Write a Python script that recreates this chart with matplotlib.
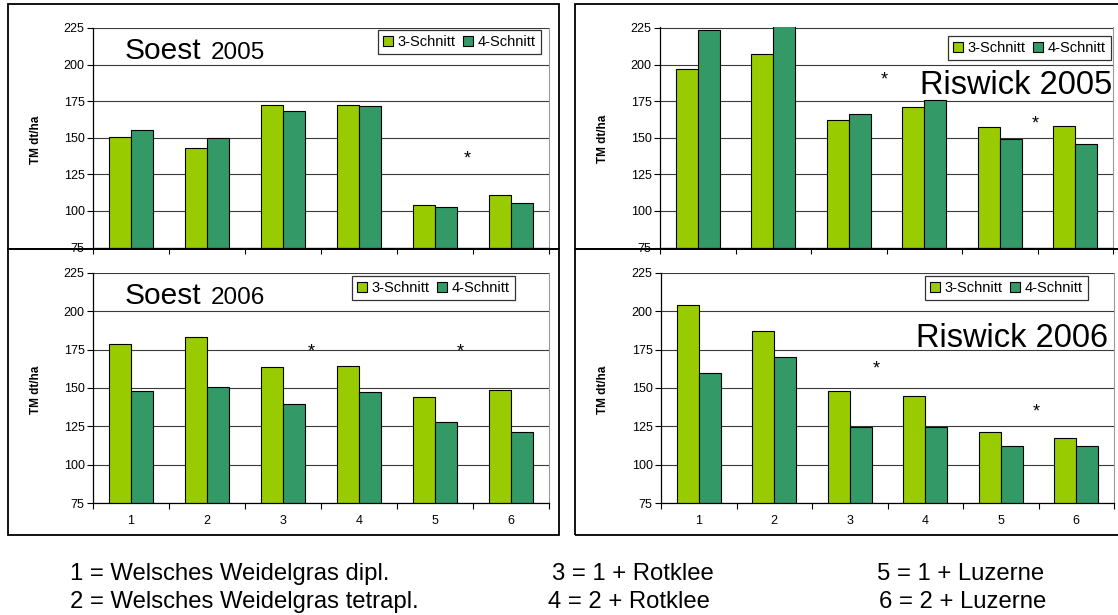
import matplotlib
matplotlib.use("Agg")
import matplotlib.pyplot as plt
from matplotlib import font_manager
from matplotlib.patches import Patch, Rectangle
import numpy as np

W, H = 1118, 615

CATEGORIES = [1, 2, 3, 4, 5, 6]
SERIES = ["3-Schnitt", "4-Schnitt"]
YTICKS = [75, 100, 125, 150, 175, 200, 225]

SOEST_2005_3 = [150.5, 143.3, 172.2, 172.2, 104.3, 110.8]
SOEST_2005_4 = [155.3, 149.7, 168.3, 171.4, 102.8, 105.3]
RISWICK_2005_3 = [196.8, 207.3, 162.0, 171.1, 157.3, 158.0]
RISWICK_2005_4 = [223.4, 230.0, 166.1, 175.9, 149.3, 145.9]
SOEST_2006_3 = [178.9, 183.0, 163.5, 164.1, 144.1, 148.9]
SOEST_2006_4 = [148.3, 150.5, 139.6, 147.6, 128.0, 121.1]
RISWICK_2006_3 = [204.3, 187.4, 148.0, 145.0, 121.1, 117.2]
RISWICK_2006_4 = [159.8, 170.4, 124.8, 124.8, 112.0, 112.0]

# significance marks (category position, value)
STARS_SOEST_2005 = [(5.43, 139)]
STARS_RISWICK_2005 = [(3.47, 193), (5.47, 163)]
STARS_SOEST_2006 = [(3.37, 177), (5.33, 177)]
STARS_RISWICK_2006 = [(3.35, 166), (5.47, 138)]

LEGEND_TEXT = [
    ("1 = Welsches Weidelgras dipl.", 70, 580),
    ("2 = Welsches Weidelgras tetrapl.", 70, 608),
    ("3 = 1 + Rotklee", 552, 580),
    ("4 = 2 + Rotklee", 548, 608),
    ("5 = 1 + Luzerne", 877, 580),
    ("6 = 2 + Luzerne", 879, 608),
]

GREEN = "#99CC00"
TEAL = "#339966"

installed = {f.name for f in font_manager.fontManager.ttflist}
NARROW = "Liberation Sans Narrow" if "Liberation Sans Narrow" in installed else "Liberation Sans"
plt.rcParams["font.family"] = ["Liberation Sans", "DejaVu Sans"]


def rect(x0, y0, x1, y1):
    return [x0 / W, 1 - y1 / H, (x1 - x0) / W, (y1 - y0) / H]


def panel(fig, box, v3, v4, stars, ytop, show_x, legend_xy, ylab_x):
    ax = fig.add_axes(rect(*box))
    x = np.array(CATEGORIES, dtype=float)
    w = 0.29
    ax.bar(x - w / 2, v3, w, color=GREEN, edgecolor="black", linewidth=0.8, zorder=2)
    ax.bar(x + w / 2, v4, w, color=TEAL, edgecolor="black", linewidth=0.8, zorder=2)
    ax.set_xlim(0.5, 6.5)
    ax.set_ylim(75, ytop)
    ax.set_yticks(YTICKS)
    ax.yaxis.grid(True, color="#3a3a3a", linewidth=0.8)
    ax.set_axisbelow(True)
    ax.tick_params(axis="y", direction="out", length=4, labelsize=9, pad=2, width=0.8)
    ax.set_xticks(CATEGORIES)
    ax.set_xticks(np.arange(0.5, 7, 1), minor=True)
    ax.tick_params(axis="x", which="major", length=0, labelsize=9, pad=9,
                   labelbottom=show_x)
    ax.tick_params(axis="x", which="minor", direction="out", length=4, width=0.8)
    for s in ("left", "bottom"):
        ax.spines[s].set_color("black")
        ax.spines[s].set_linewidth(0.9)
    ax.spines["right"].set_color("#9a9a9a")
    ax.spines["top"].set_visible(False)
    for sx, sy in stars:
        ax.annotate("*", (sx, sy), xytext=(0, -7), textcoords="offset points",
                    ha="center", va="baseline", fontsize=13)
    handles = [Patch(facecolor=GREEN, edgecolor="black", linewidth=0.8),
               Patch(facecolor=TEAL, edgecolor="black", linewidth=0.8)]
    leg = fig.legend(handles, SERIES, loc="upper left",
                     bbox_to_anchor=(legend_xy[0] / W, 1 - legend_xy[1] / H),
                     ncol=2, fontsize=10.5, frameon=True, fancybox=False,
                     handlelength=0.7, handleheight=0.7, handletextpad=0.3,
                     columnspacing=0.5, borderpad=0.35, borderaxespad=0)
    leg.get_frame().set_edgecolor("black")
    leg.get_frame().set_linewidth(0.9)
    cy = (box[1] + box[3]) / 2 + 2
    fig.text(ylab_x / W, 1 - cy / H, "TM dt/ha", rotation=90, ha="center",
             va="center", fontsize=8.5, fontweight="bold", family=[NARROW, "DejaVu Sans"])
    return ax


def frame(fig, x0, y0, x1, y1):
    fig.add_artist(Rectangle((x0 / W, 1 - y1 / H), (x1 - x0) / W, (y1 - y0) / H,
                             transform=fig.transFigure, fill=False,
                             edgecolor="black", linewidth=1.3, zorder=5))


def main():
    fig = plt.figure(figsize=(W / 100, H / 100), dpi=100)

    frame(fig, 8, 4, 559, 249)
    frame(fig, 575, 4, 1125, 249)
    frame(fig, 8, 249, 559, 535)
    frame(fig, 575, 249, 1125, 535)

    panel(fig, (93, 28, 549, 247.5), SOEST_2005_3, SOEST_2005_4, STARS_SOEST_2005,
          225, False, (378, 30), 36)
    panel(fig, (660, 26.5, 1113, 247.5), RISWICK_2005_3, RISWICK_2005_4,
          STARS_RISWICK_2005, 226, False, (948, 36), 603)
    panel(fig, (93, 273, 549, 503), SOEST_2006_3, SOEST_2006_4, STARS_SOEST_2006,
          225, True, (352, 276), 36)
    panel(fig, (661, 273, 1114, 503), RISWICK_2006_3, RISWICK_2006_4,
          STARS_RISWICK_2006, 225, True, (925, 276), 603)

    fig.text(125 / W, 1 - 59 / H, "Soest", fontsize=21.5, va="baseline")
    fig.text(211 / W, 1 - 59 / H, "2005", fontsize=17.5, va="baseline")
    fig.text(125 / W, 1 - 304 / H, "Soest", fontsize=21.5, va="baseline")
    fig.text(211 / W, 1 - 304 / H, "2006", fontsize=17.5, va="baseline")
    fig.text(1112 / W, 1 - 94 / H, "Riswick 2005", fontsize=23.5, ha="right", va="baseline")
    fig.text(1108 / W, 1 - 347 / H, "Riswick 2006", fontsize=23.5, ha="right", va="baseline")

    for txt, tx, ty in LEGEND_TEXT:
        fig.text(tx / W, 1 - ty / H, txt, fontsize=17.2, va="baseline",
                 family=[NARROW, "DejaVu Sans"])

    fig.savefig("out.png", dpi=100)


if __name__ == "__main__":
    main()
